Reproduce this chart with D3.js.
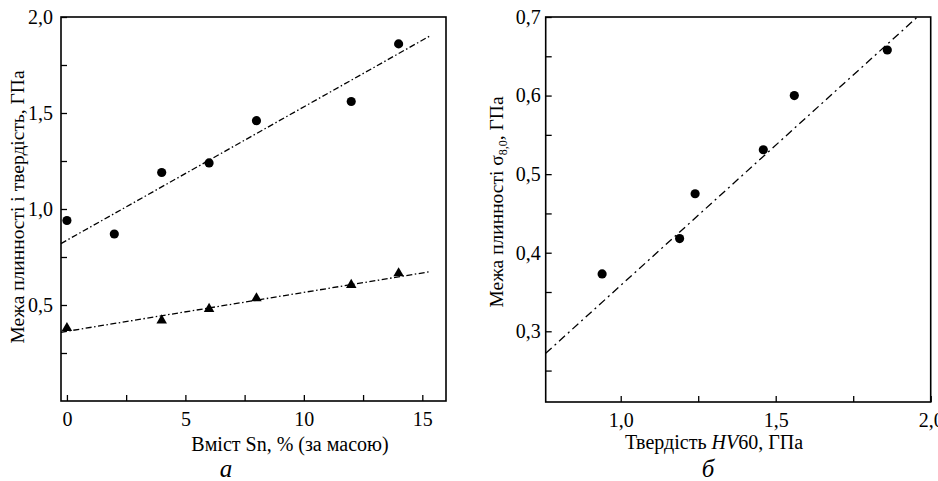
<!DOCTYPE html>
<html>
<head>
<meta charset="utf-8">
<script src="https://cdn.jsdelivr.net/npm/d3@7"></script>
<style>
  body { margin: 0; background: #fff; }
  svg { display: block; font-family: "Liberation Serif", "DejaVu Serif", serif; }
  .tick text { font-size: 20px; fill: #000; font-family: "Liberation Serif", serif; }
  .tick line { stroke: #000; stroke-width: 1.3; }
</style>
</head>
<body>
<svg id="chart" width="938" height="481"></svg>
<script>
// panel a: Sn content vs yield strength / hardness
var snContent = [0, 2, 4, 6, 8, 12, 14];
var hardness = [0.94, 0.87, 1.19, 1.24, 1.46, 1.56, 1.86];
var snContentYield = [0, 4, 6, 8, 12, 14];
var yieldStrength = [0.38, 0.42, 0.48, 0.535, 0.605, 0.665];
var fitHardness = [[-0.25, 0.82], [15.3, 1.90]];
var fitYield = [[-0.25, 0.358], [15.3, 0.673]];
var xTicksA = [0, 2.5, 5, 7.5, 10, 12.5, 15];
var xLabelsA = [0, 5, 10, 15];
var yTicksA = [0.25, 0.5, 0.75, 1.0, 1.25, 1.5, 1.75, 2.0];
var yLabelsA = [0.5, 1.0, 1.5, 2.0];

// panel b: hardness HV60 vs yield strength sigma 8,0
var hv60 = [0.94, 1.19, 1.24, 1.46, 1.56, 1.86];
var sigma80 = [0.373, 0.418, 0.475, 0.531, 0.600, 0.658];
var fitSigma = [[0.758, 0.272], [1.957, 0.700]];
var xTicksB = [1.0, 1.25, 1.5, 1.75, 2.0];
var xLabelsB = [1.0, 1.5, 2.0];
var yTicksB = [0.25, 0.3, 0.35, 0.4, 0.45, 0.5, 0.55, 0.6, 0.65, 0.7];
var yLabelsB = [0.3, 0.4, 0.5, 0.6, 0.7];

var svg = d3.select("#chart");
svg.append("rect").attr("width", 938).attr("height", 481).attr("fill", "#fff");

function commaFmt(digits) {
    return function (v) { return d3.format("." + digits + "f")(v).replace(".", ","); };
}

function isLabel(list, v) {
    return list.some(function (l) { return Math.abs(l - v) < 1e-9; });
}

function drawPanel(cfg) {
    var x = d3.scaleLinear().domain(cfg.xDomain).range([cfg.left, cfg.right]);
    var y = d3.scaleLinear().domain(cfg.yDomain).range([cfg.bottom, cfg.top]);
    var g = svg.append("g");

    g.append("g")
        .attr("transform", "translate(0," + cfg.bottom + ")")
        .call(d3.axisBottom(x)
            .tickValues(cfg.xTicks)
            .tickSize(-6)
            .tickPadding(cfg.xPad)
            .tickFormat(function (d) { return isLabel(cfg.xLabels, d) ? cfg.xFmt(d) : ""; }))
        .attr("font-family", null)
        .call(function (a) { a.select(".domain").remove(); });

    g.append("g")
        .attr("transform", "translate(" + cfg.left + ",0)")
        .call(d3.axisLeft(y)
            .tickValues(cfg.yTicks)
            .tickSize(-6)
            .tickPadding(cfg.yPad)
            .tickFormat(function (d) { return isLabel(cfg.yLabels, d) ? cfg.yFmt(d) : ""; }))
        .attr("font-family", null)
        .call(function (a) { a.select(".domain").remove(); });

    // frame
    g.append("rect")
        .attr("x", cfg.left).attr("y", cfg.top)
        .attr("width", cfg.right - cfg.left).attr("height", cfg.bottom - cfg.top)
        .attr("fill", "none").attr("stroke", "#000").attr("stroke-width", 1.6);

    var line = d3.line().x(function (d) { return x(d[0]); }).y(function (d) { return y(d[1]); });
    cfg.fits.forEach(function (f) {
        g.append("path")
            .attr("d", line(f))
            .attr("fill", "none").attr("stroke", "#000")
            .attr("stroke-width", 1.3)
            .attr("stroke-dasharray", cfg.dash);
    });

    cfg.series.forEach(function (s) {
        var sym = d3.symbol().type(s.type).size(s.size);
        g.selectAll(null)
            .data(s.xs)
            .enter()
            .append("path")
            .attr("d", sym)
            .attr("transform", function (d, i) { return "translate(" + x(d) + "," + y(s.ys[i]) + ")"; })
            .attr("fill", "#000");
    });
    return g;
}

var gA = drawPanel({
    left: 61, right: 446, top: 17, bottom: 401,
    xDomain: [-0.25, 16], yDomain: [0, 2.0],
    xTicks: xTicksA, xLabels: xLabelsA, xFmt: function (d) { return d; }, xPad: 11,
    yTicks: yTicksA, yLabels: yLabelsA, yFmt: commaFmt(1), yPad: 8,
    dash: "6,2.5,1.5,2.5",
    fits: [fitHardness, fitYield],
    series: [
        { xs: snContent, ys: hardness, type: d3.symbolCircle, size: 66 },
        { xs: snContentYield, ys: yieldStrength, type: d3.symbolTriangle, size: 48 }
    ]
});

var gB = drawPanel({
    left: 545.7, right: 930.7, top: 17, bottom: 402,
    xDomain: [0.758, 2.0], yDomain: [0.21, 0.7],
    xTicks: xTicksB, xLabels: xLabelsB, xFmt: commaFmt(1), xPad: 11,
    yTicks: yTicksB, yLabels: yLabelsB, yFmt: commaFmt(1), yPad: 5,
    dash: "8,4,2,4",
    fits: [fitSigma],
    series: [
        { xs: hv60, ys: sigma80, type: d3.symbolCircle, size: 66 }
    ]
});

// axis titles
svg.append("text")
    .attr("x", 290).attr("y", 451)
    .attr("text-anchor", "middle").attr("font-size", 20)
    .text("Вміст Sn, % (за масою)");

svg.append("text")
    .attr("transform", "translate(24,207) rotate(-90)")
    .attr("text-anchor", "middle").attr("font-size", 19.5)
    .text("Межа плинності і твердість, ГПа");

var xb = svg.append("text")
    .attr("x", 714).attr("y", 449)
    .attr("text-anchor", "middle").attr("font-size", 20);
xb.append("tspan").text("Твердість ");
xb.append("tspan").attr("font-style", "italic").text("HV");
xb.append("tspan").text("60, ГПа");

var yb = svg.append("text")
    .attr("transform", "translate(503,202) rotate(-90)")
    .attr("text-anchor", "middle").attr("font-size", 19.5);
yb.append("tspan").text("Межа плинності σ");
yb.append("tspan").attr("font-size", 12).attr("dy", 4).text("8,0");
yb.append("tspan").attr("dy", -4).text(", ГПа");

// panel letters
svg.append("text")
    .attr("x", 226).attr("y", 477)
    .attr("text-anchor", "middle").attr("font-size", 25).attr("font-style", "italic")
    .text("а");
svg.append("text")
    .attr("x", 708).attr("y", 477)
    .attr("text-anchor", "middle").attr("font-size", 25).attr("font-style", "italic")
    .text("б");
</script>
</body>
</html>
